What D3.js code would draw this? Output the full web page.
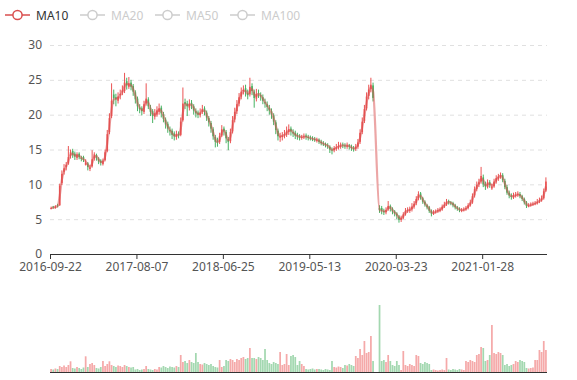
<!DOCTYPE html>
<html><head><meta charset="utf-8">
<script src="https://cdn.jsdelivr.net/npm/d3@7"></script>
<style>body{margin:0;background:#fff}svg{display:block}text{font-family:"Noto Sans",sans-serif}</style>
</head><body><svg id="c" width="577" height="380"></svg>
<script>
// ---- data (each sample ≈ one trading week) ----
const tickLabels = ["2016-09-22","2017-08-07","2018-06-25","2019-05-13","2020-03-23","2021-01-28"];
const tickEvery = 40;
const yTicks = [0,5,10,15,20,25,30];
const legendNames = ["MA10","MA20","MA50","MA100"];
const legendActive = [true,false,false,false];

const open = [
6.5,6.8,6.6,7.0,7.0,10.2,11.8,12.5,13.0,14.1,
14.8,14.4,13.8,14.4,13.8,13.9,12.8,13.0,12.2,12.6,
13.7,14.2,13.7,13.4,12.9,13.5,14.8,17.5,19.8,22.9,
22.5,22.0,22.8,23.2,23.4,24.8,24.0,24.6,24.1,23.2,
22.3,21.0,20.9,20.4,21.6,22.2,21.0,20.5,19.7,20.0,
20.4,21.0,20.1,19.3,18.7,17.8,17.7,17.3,16.8,17.3,
17.1,19.2,21.8,21.6,21.0,21.7,21.2,20.5,20.3,19.9,
20.4,20.9,20.3,19.5,18.8,17.9,16.8,16.2,16.1,17.0,
18.0,17.5,16.5,16.2,17.6,19.3,20.5,21.6,22.6,23.4,
23.8,23.1,22.9,24.1,23.3,22.3,23.1,22.8,22.5,21.8,
21.5,21.0,20.5,19.9,18.9,17.7,16.7,16.8,17.0,17.1,
17.5,18.0,17.5,17.4,17.1,16.9,16.7,16.8,17.0,16.8,
16.7,16.6,16.5,16.3,16.4,16.1,15.9,15.8,15.6,15.4,
15.0,14.9,15.1,15.3,15.4,15.7,15.6,15.4,15.6,15.4,
15.2,15.1,15.4,16.1,17.5,19.1,20.9,22.7,23.7,24.2,
null,null,6.6,6.6,6.2,6.0,6.4,6.9,6.5,6.1,
5.8,5.4,4.9,5.2,5.7,6.2,6.2,6.4,6.8,7.3,
8.0,8.7,8.0,7.5,7.0,6.7,6.2,5.8,6.0,6.1,
6.2,6.4,6.8,7.1,7.6,7.4,7.3,7.0,6.7,6.5,
6.2,6.3,6.4,6.6,7.0,7.4,8.4,9.3,10.0,10.4,
11.0,10.1,9.6,10.3,9.4,9.7,10.4,10.8,11.1,11.3,
10.5,9.6,8.8,8.4,8.1,8.4,8.5,8.6,8.3,7.9,
7.4,6.9,7.0,7.1,7.2,7.3,7.5,7.7,8.0,9.1];

const close = [
6.6,6.7,6.8,6.9,9.8,11.5,12.3,12.8,13.9,14.6,
14.2,14.0,14.3,13.9,13.7,13.5,13.1,12.5,12.4,13.6,
14.3,13.8,13.3,13.1,13.4,14.6,17.2,19.5,22.0,22.4,
22.2,22.6,23.0,23.5,24.6,24.2,24.5,24.0,23.3,22.2,
21.2,20.8,20.5,21.5,22.3,21.2,20.4,19.8,20.2,20.6,
20.9,20.2,19.4,18.6,18.0,17.6,17.1,16.9,17.2,17.0,
19.0,21.6,21.5,21.2,21.6,21.3,20.6,20.2,20.0,20.3,
20.8,20.4,19.6,18.9,18.0,16.9,16.1,16.0,16.9,17.9,
17.6,16.6,16.1,17.5,19.2,20.4,21.5,22.5,23.3,23.6,
23.2,22.8,24.0,23.4,22.4,23.0,22.9,22.6,22.0,21.6,
21.1,20.6,20.0,19.0,17.8,16.9,16.9,17.0,17.2,17.6,
17.9,17.6,17.3,17.0,16.9,16.8,16.8,16.9,16.8,16.7,
16.6,16.5,16.4,16.4,16.1,15.9,15.8,15.6,15.5,15.0,
14.9,15.2,15.3,15.5,15.6,15.6,15.5,15.6,15.4,15.2,
15.1,15.4,16.0,17.4,19.0,20.8,22.6,23.6,24.3,22.4,
null,null,6.3,6.2,6.0,6.3,6.9,6.5,6.1,5.8,
5.5,4.9,5.2,5.7,6.2,6.3,6.4,6.8,7.2,7.9,
8.6,8.1,7.5,7.1,6.7,6.2,5.8,6.0,6.1,6.3,
6.4,6.8,7.1,7.5,7.4,7.3,7.0,6.7,6.5,6.3,
6.3,6.4,6.6,7.0,7.4,8.3,9.3,9.9,10.3,11.2,
10.0,9.7,10.3,9.9,9.7,10.4,10.9,11.1,11.3,10.6,
9.6,8.8,8.4,8.2,8.4,8.5,8.6,8.3,7.9,7.4,
6.9,7.0,7.1,7.2,7.3,7.5,7.7,8.0,9.0,10.4];

const high = [
6.8,6.9,7.0,7.2,10.1,12.0,12.9,13.2,15.5,15.0,
15.1,14.7,14.6,14.6,14.1,14.1,13.6,13.2,12.8,14.9,
14.6,14.4,13.9,13.6,13.7,15.0,17.8,20.2,24.5,23.6,
23.0,23.2,23.6,24.2,26.0,25.3,25.4,25.0,24.4,23.5,
22.6,21.5,21.2,22.0,24.5,22.5,21.4,20.8,20.8,21.2,
21.6,21.3,20.4,19.6,19.0,18.3,18.0,17.6,17.7,17.6,
19.6,23.9,22.3,22.0,22.2,22.1,21.5,20.9,20.6,20.9,
21.4,21.2,20.6,19.8,19.1,18.2,17.1,16.7,17.4,18.5,
18.3,17.8,16.8,18.0,19.8,21.0,22.1,23.1,23.9,24.2,
24.3,23.6,25.3,24.5,23.6,23.7,23.6,23.2,22.9,22.3,
21.9,21.4,20.9,20.2,19.2,18.0,17.4,17.5,17.8,18.3,
18.6,18.3,17.9,17.7,17.4,17.2,17.1,17.3,17.3,17.1,
17.0,16.9,16.8,16.7,16.6,16.4,16.2,16.0,15.9,15.6,
15.3,15.5,15.8,16.1,16.0,16.0,15.9,16.0,15.8,15.7,
15.5,15.8,16.5,17.9,19.6,21.4,23.2,24.3,25.3,24.6,
null,null,7.0,6.9,6.5,6.7,7.6,7.1,6.7,6.3,
6.0,5.6,5.5,6.0,6.6,6.7,6.8,7.3,7.6,8.3,
9.0,8.9,8.2,7.7,7.2,6.9,6.4,6.3,6.4,6.6,
6.7,7.1,7.5,7.9,7.8,7.6,7.5,7.2,6.9,6.7,
6.6,6.7,6.9,7.3,7.8,8.7,9.7,10.4,10.8,12.5,
11.4,10.4,10.7,10.6,10.1,10.8,11.3,11.5,11.7,11.6,
10.8,9.9,9.1,8.7,8.8,8.9,9.0,8.9,8.5,8.1,
7.6,7.3,7.4,7.5,7.6,7.9,8.1,8.4,9.4,11.0];

const low = [
6.4,6.5,6.5,6.7,6.9,9.9,11.4,12.0,12.8,13.7,
13.8,13.5,13.5,13.6,13.3,13.2,12.7,12.0,11.9,12.4,
13.4,13.4,12.9,12.7,12.7,13.3,14.6,17.2,19.5,21.5,
21.2,21.6,22.2,22.8,23.1,23.6,23.7,23.5,22.7,21.6,
20.5,20.2,19.9,20.1,21.3,20.8,19.8,18.8,19.3,19.7,
20.0,19.6,18.9,18.0,17.4,17.0,16.5,16.3,16.4,16.6,
16.9,19.0,20.8,19.8,20.6,20.8,20.0,19.6,19.5,19.6,
20.1,19.9,19.1,18.3,17.4,16.4,15.3,15.4,15.8,16.8,
17.0,15.9,14.9,15.9,17.3,18.9,20.1,21.2,22.2,22.9,
22.6,22.2,22.6,22.8,21.0,21.9,22.4,22.0,21.5,21.0,
20.5,20.0,19.4,18.5,17.2,16.3,16.1,16.3,16.6,16.8,
17.1,17.0,16.8,16.5,16.4,16.3,16.4,16.5,16.4,16.3,
16.3,16.2,16.1,16.0,15.8,15.6,15.5,15.3,15.1,14.5,
14.3,14.6,14.8,15.0,15.1,15.2,15.1,15.1,15.0,14.8,
14.7,14.8,15.1,15.8,17.2,18.8,20.6,22.2,23.2,21.9,
null,null,5.9,5.7,5.6,5.7,6.2,6.1,5.7,5.4,
5.0,4.5,4.6,5.0,5.5,5.9,5.9,6.1,6.5,7.0,
7.7,7.8,7.2,6.8,6.4,5.9,5.4,5.6,5.8,5.9,
6.0,6.2,6.6,6.9,7.1,7.0,6.7,6.4,6.2,6.0,
6.0,6.1,6.2,6.4,6.8,7.2,8.1,9.0,9.6,10.1,
9.6,9.2,9.4,9.5,9.2,9.5,10.1,10.5,10.8,10.3,
9.3,8.5,8.0,7.8,7.9,8.1,8.2,8.0,7.6,7.1,
6.6,6.7,6.8,6.9,7.0,7.1,7.3,7.5,7.8,8.9];

const volume = [
3,2.5,3.5,3,6,5,6.5,5,7,10.7,
4,3.5,5,4,3,4.5,15.7,5,8,9,
7,4,3.5,5,11,6,8,10.7,7,6,
5,6.5,6,5,7,6,5,4.5,5,2.5,
3,2,2.5,3,6,3,2.5,2,3,2.5,
5,4.5,6,5,4,5.5,5,4.5,6,5,
17,10,11,9,12,10,9,19,10,8,
7.5,9,8,7,8,6,5,4.5,12,5,
6,12,11,13,12,10,13,12,14,15,
13,14,24,14,14,13,15,14,12,23,
12,9,8,10,9,8,20,7,8,18,
7,16,17,15,7,11,8,6,3,2.5,
3,3.5,2.5,3,3,2.5,2,3,2.5,2,
11,5,4.5,5.5,5,4,7,6.5,8,7,
6,16,14,23,17,31,19,20,36,11,
null,null,67,11,12,10,17,11,7,6,
11,7,2,21,7,6,8,7,6,17,
16,9,8,10,9,8,2,2.5,2,1.5,
2,2.5,2,14,2.5,2,3,2.5,2,3,
2.5,2,11,10,12,11,10,17,18,25,
24,11,12,17,47,19,18,20,19,17,
7,8,6,7,8,11,10,12,11,10,
4,3.5,4,4.5,12,12,22,20,31,22];

// ---- chart ----
const N = close.length;
const upColor = "#eb5454", downColor = "#47b262", maColor = "#d94e4e";
const svg = d3.select("#c");
const L = 50, R = 547;
const x = d3.scaleLinear().domain([0, N]).range([L, R]);
const y = d3.scaleLinear().domain([0, 30]).range([254, 45]);
const yv = d3.scaleLinear().domain([0, d3.max(volume)]).range([372, 305]);
const bw = x(1) - x(0);
const idx = d3.range(N).filter(i => close[i] != null);

// grid
const grid = svg.append("g").attr("transform", `translate(${L},0)`)
  .call(d3.axisLeft(y).tickValues(yTicks.filter(v => v > 0)).tickSize(-(R - L)).tickFormat(""));
grid.select(".domain").remove();
grid.selectAll("line").attr("stroke", "#e0e0e0").attr("stroke-dasharray", "4,4");

// y axis labels
const ya = svg.append("g").attr("transform", `translate(${L},0)`)
  .call(d3.axisLeft(y).tickValues(yTicks).tickSize(0).tickPadding(8));
ya.select(".domain").remove();
ya.selectAll("text").attr("fill", "#555").attr("font-size", 12).attr("font-family", '"Noto Sans",sans-serif');

// candles
const cg = svg.append("g");
cg.selectAll("line").data(idx).join("line")
  .attr("x1", i => x(i + 0.5)).attr("x2", i => x(i + 0.5))
  .attr("y1", i => y(high[i])).attr("y2", i => y(low[i]))
  .attr("stroke", i => close[i] >= open[i] ? upColor : downColor).attr("stroke-width", 1);
cg.selectAll("rect").data(idx).join("rect")
  .attr("x", i => x(i + 0.12)).attr("width", bw * 0.76)
  .attr("y", i => y(Math.max(open[i], close[i])))
  .attr("height", i => Math.max(1, Math.abs(y(open[i]) - y(close[i]))))
  .attr("fill", i => close[i] >= open[i] ? upColor : downColor);

// MA10 (≈ two weekly samples)
const ma = idx.map(i => {
  const p = close[i - 1];
  return [i, p != null ? (close[i] + p) / 2 : close[i]];
});
svg.append("path").datum(ma)
  .attr("d", d3.line().x(d => x(d[0] + 0.5)).y(d => y(d[1])).curve(d3.curveMonotoneX))
  .attr("fill", "none").attr("stroke", maColor).attr("stroke-opacity", 0.5).attr("stroke-width", 2.2);

// x axis
const xa = svg.append("g").attr("transform", "translate(0,254)")
  .call(d3.axisBottom(x).tickValues(tickLabels.map((_, k) => k * tickEvery))
    .tickFormat((d, k) => tickLabels[k]).tickSize(5).tickPadding(3));
xa.select(".domain").attr("stroke", "#333").attr("d", `M${L},0.5H${R}`);
xa.selectAll("line").attr("stroke", "#333");
xa.selectAll("text").attr("fill", "#555").attr("font-size", 12).attr("font-family", '"Noto Sans",sans-serif');

// volume
svg.append("g").selectAll("rect").data(idx.filter(i => volume[i] != null)).join("rect")
  .attr("x", i => x(i + 0.1)).attr("width", bw * 0.8)
  .attr("y", i => yv(volume[i])).attr("height", i => yv(0) - yv(volume[i]))
  .attr("fill", i => close[i] >= open[i] ? upColor : downColor).attr("fill-opacity", 0.5);
svg.append("line").attr("x1", L).attr("x2", R).attr("y1", yv(0) + 0.5).attr("y2", yv(0) + 0.5)
  .attr("stroke", "#333").attr("stroke-width", 1);

// legend
const lx = [5, 80, 155, 230];
const lg = svg.append("g").selectAll("g").data(legendNames).join("g")
  .attr("transform", (d, k) => `translate(${lx[k]},15)`);
lg.append("line").attr("x1", 0).attr("x2", 25).attr("y1", 0).attr("y2", 0)
  .attr("stroke", (d, k) => legendActive[k] ? maColor : "#ccc").attr("stroke-width", 1.5);
lg.append("circle").attr("cx", 12.5).attr("cy", 0).attr("r", 4.6).attr("fill", "#fff")
  .attr("stroke", (d, k) => legendActive[k] ? maColor : "#ccc").attr("stroke-width", 1.5);
lg.append("text").attr("x", 31).attr("y", 4.5).text(d => d)
  .attr("font-size", 12).attr("fill", (d, k) => legendActive[k] ? "#333" : "#ccc");
</script></body></html>
